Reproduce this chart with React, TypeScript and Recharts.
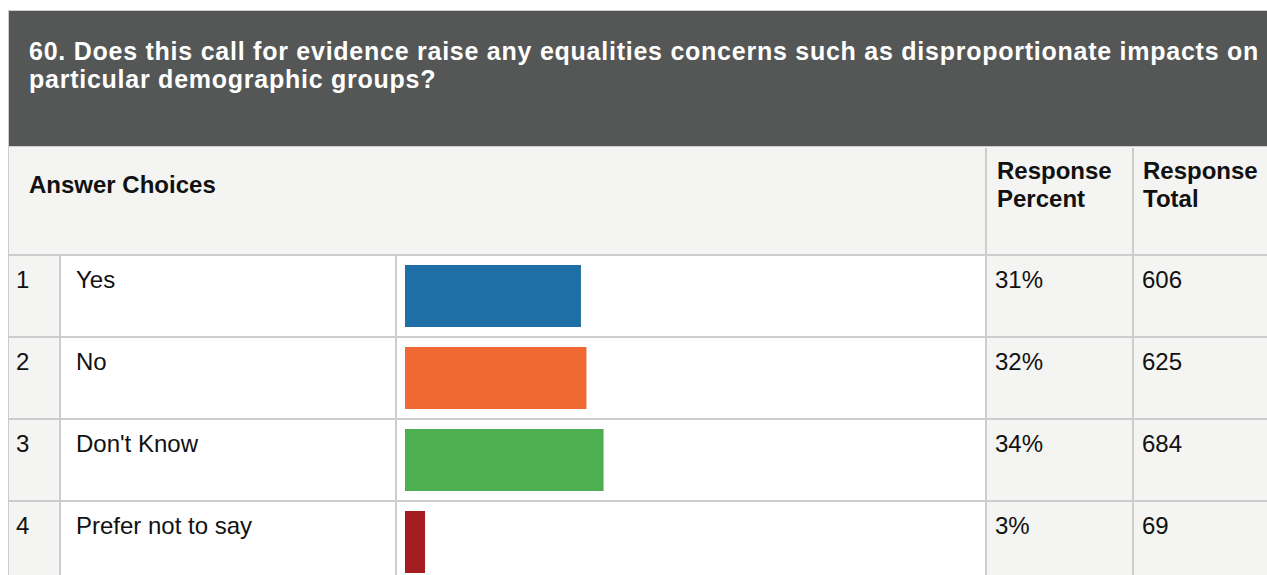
import React from "react";
import { BarChart, Bar, XAxis, YAxis, Cell } from "recharts";

const questionTitle =
  "60. Does this call for evidence raise any equalities concerns such as disproportionate impacts on particular demographic groups?";
const choices = ["Yes", "No", "Don't Know", "Prefer not to say"];
const totals = [606, 625, 684, 69];
const percentLabels = ["31%", "32%", "34%", "3%"];
const barColors = ["#1d6fa5", "#f06832", "#4daf50", "#a41c20"];

const FONT = '"Liberation Sans", Arial, sans-serif';
const LINE = "#cdcdcd";
const SHADE = "#f4f4f2";
const ROW_TOP = 254;
const ROW_H = 82;

const sum = totals.reduce((a, b) => a + b, 0);
const data = choices.map((name, i) => ({
  name,
  share: (totals[i] / sum) * 100,
}));

const box = (
  left: number,
  top: number,
  width: number,
  height: number,
  background: string
): React.CSSProperties => ({
  position: "absolute",
  left,
  top,
  width,
  height,
  background,
});

const text = (
  left: number,
  top: number,
  extra: React.CSSProperties = {}
): React.CSSProperties => ({
  position: "absolute",
  left,
  top,
  fontSize: 24,
  lineHeight: "28px",
  color: "#111",
  whiteSpace: "nowrap",
  ...extra,
});

export default function App() {
  return (
    <div
      style={{
        position: "fixed",
        left: 0,
        top: 0,
        width: 1267,
        height: 575,
        overflow: "hidden",
        background: "#fff",
        fontFamily: FONT,
      }}
    >
      {/* question header */}
      <div style={{ ...box(8, 10, 1259, 136, "#555756"), borderTop: `1px solid ${LINE}`, borderLeft: `1px solid ${LINE}`, boxSizing: "border-box" }} />
      <div
        style={{
          position: "absolute",
          left: 29,
          top: 37,
          width: 1236,
          fontSize: 25,
          lineHeight: "28px",
          letterSpacing: 0.75,
          fontWeight: 700,
          color: "#fff",
        }}
      >
        {questionTitle}
      </div>

      {/* column header row */}
      <div style={{ ...box(8, 146, 1259, 108, SHADE), borderTop: `1px solid ${LINE}`, borderLeft: `1px solid ${LINE}`, boxSizing: "border-box" }} />
      <div style={text(29, 171, { fontWeight: 700 })}>Answer Choices</div>
      <div style={text(997, 157, { fontWeight: 700 })}>
        Response
        <br />
        Percent
      </div>
      <div style={text(1143, 157, { fontWeight: 700 })}>
        Response
        <br />
        Total
      </div>
      <div style={box(985, 148, 2, 106, LINE)} />
      <div style={box(1132, 148, 2, 106, LINE)} />

      {/* answer rows */}
      {choices.map((c, i) => {
        const top = ROW_TOP + i * ROW_H;
        return (
          <React.Fragment key={c}>
            <div style={{ ...box(8, top, 52, ROW_H, SHADE), borderLeft: `1px solid ${LINE}`, boxSizing: "border-box" }} />
            <div style={box(986, top, 147, ROW_H, SHADE)} />
            <div style={box(1133, top, 134, ROW_H, SHADE)} />
            <div style={box(8, top, 1259, 2, LINE)} />
            <div style={box(59, top, 2, ROW_H, LINE)} />
            <div style={box(395, top, 2, ROW_H, LINE)} />
            <div style={box(985, top, 2, ROW_H, LINE)} />
            <div style={box(1132, top, 2, ROW_H, LINE)} />
            <div style={text(16, top + 12)}>{i + 1}</div>
            <div style={text(76, top + 12)}>{c}</div>
            <div style={text(995, top + 12)}>{percentLabels[i]}</div>
            <div style={text(1142, top + 12)}>{totals[i]}</div>
          </React.Fragment>
        );
      })}

      {/* bars */}
      <div style={{ position: "absolute", left: 397, top: ROW_TOP + 1 }}>
        <BarChart
          width={588}
          height={ROW_H * choices.length}
          data={data}
          layout="vertical"
          margin={{ top: 0, right: 4, bottom: 0, left: 8 }}
          barCategoryGap={0}
        >
          <XAxis type="number" domain={[0, 100]} hide />
          <YAxis type="category" dataKey="name" hide width={0} />
          <Bar dataKey="share" barSize={62} isAnimationActive={false}>
            {data.map((d, i) => (
              <Cell key={d.name} fill={barColors[i]} />
            ))}
          </Bar>
        </BarChart>
      </div>
    </div>
  );
}
